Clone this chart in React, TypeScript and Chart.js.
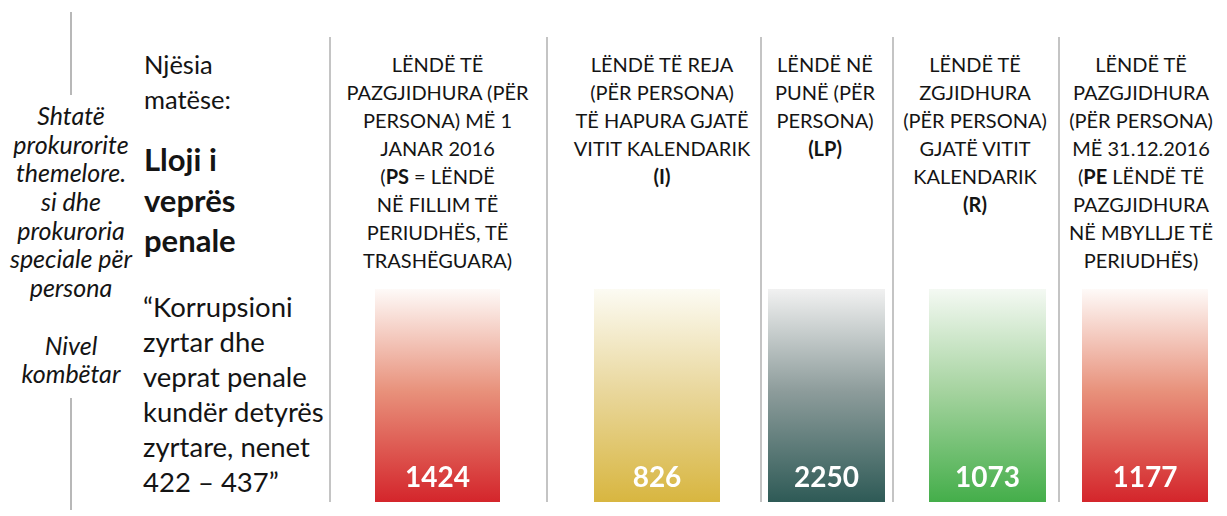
import React, { useEffect, useRef } from "react";
import { Chart, registerables } from "chart.js";

Chart.register(...registerables);

// ---------- data ----------
const categories = ["PS", "I", "LP", "R", "PE"];
const values = [1424, 826, 2250, 1073, 1177];
const headerLines: string[][] = [
  ["LËNDË TË", "PAZGJIDHURA (PËR", "PERSONA) MË 1", "JANAR 2016", "(*PS* = LËNDË", "NË FILLIM TË", "PERIUDHËS, TË", "TRASHËGUARA)"],
  ["LËNDË TË REJA", "(PËR PERSONA)", "TË HAPURA GJATË", "VITIT KALENDARIK", "*(I)*"],
  ["LËNDË NË", "PUNË (PËR", "PERSONA)", "*(LP)*"],
  ["LËNDË TË", "ZGJIDHURA", "(PËR PERSONA)", "GJATË VITIT", "KALENDARIK", "*(R)*"],
  ["LËNDË TË", "PAZGJIDHURA", "(PËR PERSONA)", "MË 31.12.2016", "(*PE* LËNDË TË", "PAZGJIDHURA", "NË MBYLLJE TË", "PERIUDHËS)"],
];
const leftItalicLines = ["Shtatë", "prokurorite", "themelore.", "si dhe", "prokuroria", "speciale për", "persona", "", "Nivel", "kombëtar"];
const unitLines = ["Njësia", "matëse:"];
const typeLines = ["Lloji i", "veprës", "penale"];
const quoteLines = ["“Korrupsioni", "zyrtar dhe", "veprat penale", "kundër detyrës", "zyrtare, nenet", "422 – 437”"];

// ---------- styles ----------
const barColors = [
  ["#fefaf8", "#e8917b", "#d4252b"],
  ["#fcfbf3", "#e9d79c", "#d8b640"],
  ["#f1f1f1", "#8d9c9b", "#2e5a56"],
  ["#f4f9f3", "#a5d39f", "#44ae4a"],
  ["#fefaf8", "#e8917b", "#d4252b"],
];
const barCenters = [437.5, 657, 826.5, 987.5, 1145];
const barWidths = [125, 126, 117, 117, 126];
const barTop = 289;
const barHeight = 213;
const headerCenters = [437.5, 662, 825, 975, 1141];
const separatorsX = [330, 547, 761, 893, 1059];
const FONT = "Lato, 'Open Sans', sans-serif";

const valueLabelPlugin = {
  id: "valueLabel",
  afterDatasetsDraw(chart: any) {
    const ctx = chart.ctx;
    const meta = chart.getDatasetMeta(0);
    meta.data.forEach((bar: any, i: number) => {
      const v = chart.data.datasets[0].data[i];
      ctx.save();
      ctx.fillStyle = "#ffffff";
      ctx.font = `bold 28px ${FONT}`;
      ctx.textAlign = "center";
      ctx.textBaseline = "alphabetic";
      ctx.fillText(String(v), bar.x, bar.base - 15);
      ctx.restore();
    });
  },
};

function BarColumn({ index }: { index: number }) {
  const ref = useRef<HTMLCanvasElement | null>(null);
  useEffect(() => {
    if (!ref.current) return;
    const stops = barColors[index];
    const chart = new Chart(ref.current, {
      type: "bar",
      data: {
        labels: [categories[index]],
        datasets: [
          {
            data: [values[index]],
            backgroundColor: (c: any) => {
              const area = c.chart.chartArea;
              if (!area) return stops[2];
              const g = c.chart.ctx.createLinearGradient(0, area.top, 0, area.bottom);
              g.addColorStop(0, stops[0]);
              g.addColorStop(0.48, stops[1]);
              g.addColorStop(1, stops[2]);
              return g;
            },
            borderWidth: 0,
            barPercentage: 1,
            categoryPercentage: 1,
          },
        ],
      },
      options: {
        animation: false,
        responsive: false,
        maintainAspectRatio: false,
        layout: { padding: 0 },
        plugins: { legend: { display: false }, tooltip: { enabled: false } },
        scales: {
          x: { display: false, grid: { display: false } },
          y: { display: false, min: 0, max: values[index], grid: { display: false } },
        },
      },
      plugins: [valueLabelPlugin],
    } as any);
    return () => chart.destroy();
  }, [index]);
  const w = barWidths[index];
  return (
    <canvas
      ref={ref}
      width={w}
      height={barHeight}
      style={{ position: "absolute", left: barCenters[index] - w / 2, top: barTop, width: w, height: barHeight }}
    />
  );
}

function renderLine(line: string) {
  const parts = line.split("*");
  return parts.map((p, i) => (i % 2 === 1 ? <b key={i}>{p}</b> : <span key={i}>{p}</span>));
}

export default function App() {
  useEffect(() => {
    document.body.style.margin = "0";
  }, []);
  const textColor = "#141414";
  return (
    <div style={{ position: "absolute", left: 0, top: 0, width: 1227, height: 516, background: "#fff", overflow: "hidden", fontFamily: FONT, color: textColor }}>
      {/* left thin line */}
      <div style={{ position: "absolute", left: 70, top: 12, width: 1.5, height: 83, background: "#b8b8b8" }} />
      <div style={{ position: "absolute", left: 70, top: 398, width: 1.5, height: 112, background: "#b8b8b8" }} />
      {/* italic left text */}
      <div style={{ position: "absolute", left: 0, top: 101, width: 142, textAlign: "center", fontStyle: "italic", fontSize: 25, lineHeight: "28.7px", whiteSpace: "nowrap" }}>
        {leftItalicLines.map((l, i) => (
          <div key={i} style={{ height: 28.7 }}>{l}</div>
        ))}
      </div>
      {/* unit label */}
      <div style={{ position: "absolute", left: 144, top: 47, fontSize: 25.5, lineHeight: "35px", whiteSpace: "nowrap" }}>
        {unitLines.map((l, i) => (<div key={i}>{l}</div>))}
      </div>
      <div style={{ position: "absolute", left: 144, top: 139, fontSize: 31, fontWeight: 700, lineHeight: "40.5px", whiteSpace: "nowrap" }}>
        {typeLines.map((l, i) => (<div key={i}>{l}</div>))}
      </div>
      <div style={{ position: "absolute", left: 143, top: 289, fontSize: 27.5, lineHeight: "35px", whiteSpace: "nowrap" }}>
        {quoteLines.map((l, i) => (<div key={i}>{l}</div>))}
      </div>
      {/* separators */}
      {separatorsX.map((x, i) => (
        <div key={i} style={{ position: "absolute", left: x - 1, top: 37, width: 2, height: 465, background: "#c4c4c4" }} />
      ))}
      {/* headers */}
      {headerLines.map((lines, i) => (
        <div key={i} style={{ position: "absolute", left: headerCenters[i] - 110, top: 50, width: 220, textAlign: "center", fontSize: 20, lineHeight: "28px", whiteSpace: "nowrap" }}>
          {lines.map((l, j) => (<div key={j}>{renderLine(l)}</div>))}
        </div>
      ))}
      {/* bars */}
      {values.map((_, i) => (
        <BarColumn key={i} index={i} />
      ))}
    </div>
  );
}
